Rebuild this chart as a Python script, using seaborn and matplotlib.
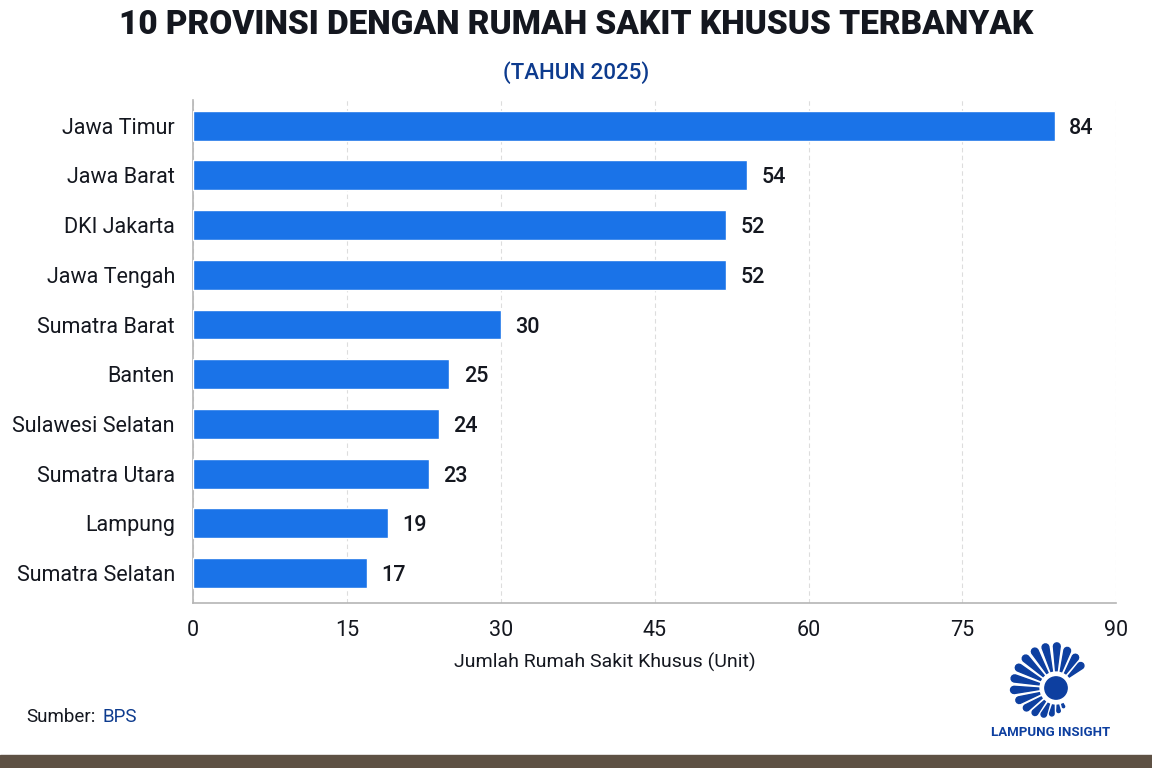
import numpy as np
import pandas as pd
import matplotlib
matplotlib.use("Agg")
import matplotlib.pyplot as plt
from matplotlib.patches import Circle, Polygon, Rectangle
import seaborn as sns

provinces = ['Jawa Timur', 'Jawa Barat', 'DKI Jakarta', 'Jawa Tengah', 'Sumatra Barat',
             'Banten', 'Sulawesi Selatan', 'Sumatra Utara', 'Lampung', 'Sumatra Selatan']
hospitals = [84, 54, 52, 52, 30, 25, 24, 23, 19, 17]
x_ticks = [0, 15, 30, 45, 60, 75, 90]

df = pd.DataFrame(dict(province=provinces, hospitals=hospitals))

sns.set_style("white")
plt.rcParams['font.family'] = ['Roboto', 'DejaVu Sans']

BLUE = '#1a73e8'
NAVY = '#0d3b8e'
DARK = '#14171f'
LOGO = '#0d3fa0'

fig = plt.figure(figsize=(11.52, 7.68), dpi=100)
ax = fig.add_axes([0.1675, 0.215, 0.8015, 0.655])

sns.barplot(data=df, x='hospitals', y='province', color=BLUE, width=0.6,
            saturation=1, ax=ax, zorder=3)

for i, v in enumerate(hospitals):
    ax.text(v + 1.4, i, str(v), va='center_baseline', ha='left', fontsize=15.5, color=DARK,
            fontweight='medium')

ax.set_xlim(0, 90)
ax.set_ylim(9.6, -0.52)
ax.set_xticks(x_ticks)
ax.tick_params(axis='x', labelsize=15.5, colors=DARK, length=0, pad=12)
ax.tick_params(axis='y', labelsize=15.5, colors=DARK, length=0, pad=13)
ax.grid(axis='x', color='#dddddd', linestyle=(0, (4, 3)), linewidth=0.8, zorder=0)
ax.set_ylabel('')
ax.set_xlabel('Jumlah Rumah Sakit Khusus (Unit)', fontsize=14, color=DARK)
ax.xaxis.set_label_coords((605 - 193) / 923, -0.1)
for s in ['top', 'right']:
    ax.spines[s].set_visible(False)
for s in ['left', 'bottom']:
    ax.spines[s].set_color('#b5b5b5')
    ax.spines[s].set_linewidth(1.2)

fig.text(0.5, 0.967, '10 PROVINSI DENGAN RUMAH SAKIT KHUSUS TERBANYAK', ha='center', va='center',
         fontsize=24, fontweight='heavy', color=DARK)
fig.text(0.5, 0.906, '(TAHUN 2025)', ha='center', va='center',
         fontsize=16, fontweight='medium', color=NAVY)

fig.text(0.0226, 0.067, 'Sumber:', ha='left', va='center', fontsize=13.5, color=DARK)
fig.text(0.089, 0.067, 'BPS', ha='left', va='center', fontsize=13.5, color=NAVY)

# logo (sunburst)
lax = fig.add_axes([1006 / 1152, 1 - 738 / 768, 100 / 1152, 100 / 768])
lax.set_xlim(-1.3, 1.3)
lax.set_ylim(-1.3, 1.3)
lax.axis('off')
lax.add_patch(Circle((0, 0), 0.29, color=LOGO))
for ang in np.linspace(42, 292, 17):
    a = np.radians(ang)
    d = np.array([np.cos(a), np.sin(a)])
    p = np.array([-d[1], d[0]])
    r1 = np.interp(ang, [42, 90, 180, 250, 292], [0.95, 1.18, 1.2, 0.8, 0.55])
    w1 = np.interp(ang, [42, 180, 250, 292], [0.085, 0.095, 0.07, 0.03])
    r0, w0 = 0.45, 0.02
    pts = [d * r0 + p * w0, d * (r1 - w1) + p * w1]
    for t in np.linspace(0, np.pi, 7)[1:-1]:
        pts.append(d * (r1 - w1) + d * w1 * np.sin(t) + p * w1 * np.cos(t))
    pts += [d * (r1 - w1) - p * w1, d * r0 - p * w0]
    lax.add_patch(Polygon(pts, closed=True, color=LOGO))
fig.text(1051 / 1152, 1 - 732 / 768, 'LAMPUNG INSIGHT', ha='center', va='center', fontsize=9.5,
         fontweight='bold', color=LOGO)

fig.patches.append(Rectangle((0, 0), 1, 0.017, transform=fig.transFigure,
                             color='#5e5144', zorder=0))

fig.savefig('out.png', dpi=100)
